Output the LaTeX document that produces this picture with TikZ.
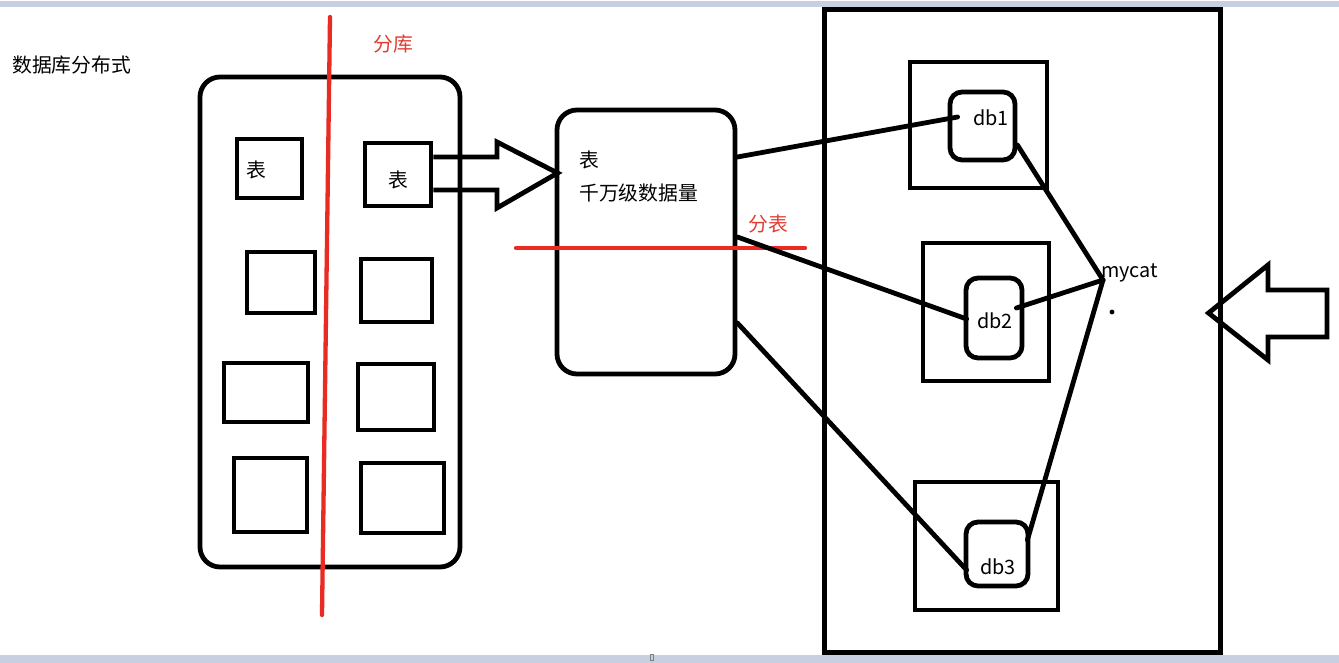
\documentclass[tikz,border=0pt]{standalone}
\usepackage{fontspec}
\newfontfamily\cjk{Noto Sans CJK SC}
\usetikzlibrary{calc}
\definecolor{redline}{RGB}{232,44,36}
\definecolor{redtext}{RGB}{226,60,50}
\definecolor{barcol}{RGB}{200,207,224}
\tikzset{
  every node/.style={font=\cjk\fontsize{19.8}{23}\selectfont, inner sep=0pt},
  box/.style={draw, line width=4.8pt, minimum width=#1},
  rbox/.style={draw, line width=4.8pt, rounded corners=#1},
  conn/.style={line width=4.8pt, line cap=round},
  redstroke/.style={redline, line width=4.3pt, line cap=round},
  redlabel/.style={text=redtext},
  arrowshape/.style={draw, line width=4.8pt, line join=miter},
}
\begin{document}
\begin{tikzpicture}[x=1pt,y=-1pt]
\useasboundingbox (0,0) rectangle (1339,663);
\fill[white] (0,0) rectangle (1339,663);
% window chrome bands
\fill[barcol] (0,1) rectangle (1339,7.5);
\fill[barcol] (0,654.5) rectangle (1339,663);
\draw[gray, line width=0.8pt] (650.5,654.5) rectangle (653.5,660);

% title
\node[anchor=west] (title) at (12,65) {数据库分布式};

% left database group
\node[rbox=20pt, minimum width=260pt, minimum height=490pt] (db) at (330,322) {};
\node[box=65pt, minimum height=59pt] (l1) at (269.5,168.5) {};
\node[box=68pt, minimum height=61pt] (l2) at (281,282.5) {};
\node[box=84pt, minimum height=59pt] (l3) at (266,392.5) {};
\node[box=73pt, minimum height=74pt] (l4) at (270.5,495) {};
\node[box=66pt, minimum height=63pt] (r1) at (398,174.5) {};
\node[box=71pt, minimum height=63pt] (r2) at (396.5,290.5) {};
\node[box=76pt, minimum height=66pt] (r3) at (396,397) {};
\node[box=83pt, minimum height=70pt] (r4) at (402.5,498) {};
\node (l1t) at (256,170) {表};
\node (r1t) at (398,180) {表};

% split line
\draw[redstroke] (330,17) -- (322,615);
\node[redlabel] (fenku) at (393,44) {分库};

% middle table
\node[rbox=20pt, minimum width=178pt, minimum height=264pt] (mid) at (646,242) {};
\node[anchor=west] (midt1) at (579,160) {表};
\node[anchor=west] (midt2) at (579,193) {千万级数据量};
\draw[redstroke] (516,248) -- (805,248);
\node[redlabel] (fenbiao) at (768,224) {分表};

% big arrow to middle
\draw[arrowshape] (r1.east |- 0,157) -- (497,157) -- (497,142) -- ($(mid.west |- 0,173)+(3,0)$) -- (497,208) -- (497,190) -- (r1.east |- 0,190);

% right cluster
\node[draw, line width=5pt, minimum width=396pt, minimum height=642pt] (cluster) at (1022,331) {};
\node[box=137pt, minimum height=126pt] (o1) at (978.5,125) {};
\node[box=126pt, minimum height=138pt] (o2) at (986,312) {};
\node[box=143pt, minimum height=128pt] (o3) at (986.5,546) {};
\node[rbox=12pt, minimum width=65pt, minimum height=68pt] (db1) at (982.5,126) {};
\node[rbox=12pt, minimum width=56pt, minimum height=80pt] (db2) at (994,318) {};
\node[rbox=12pt, minimum width=62pt, minimum height=64pt] (db3) at (997,554) {};
\node (db1t) at (991,118) {db1};
\node (db2t) at (995,321) {db2};
\node (db3t) at (998,567) {db3};
\node[anchor=west] (mycatt) at (1101,273) {mycat};
\coordinate (mycat) at (1103,280);
\fill (1112,312) circle (2.4pt);

% connectors
\draw[conn] ($(mid.east)+(0,-85)$) -- ($(db1.west)+(10,-9)$);
\draw[conn] ($(mid.east)+(0,-5)$) -- ($(db2.west)+(3,1)$);
\draw[conn] ($(mid.east)+(0,81)$) -- ($(db3.west)+(3,16)$);
\draw[conn] ($(db1.east)+(0,19)$) -- (mycat);
\draw[conn] ($(db2.east)+(-8,-10)$) -- (mycat);
\draw[conn] (mycat) -- ($(db3.east)+(-3,-14)$);

% incoming arrow on the right
\draw[arrowshape] ($(cluster.east |- 0,313)+(-14,0)$) -- (1268,265) -- (1268,290) -- (1327,290) -- (1327,337) -- (1268,337) -- (1268,360) -- cycle;
\end{tikzpicture}
\end{document}
